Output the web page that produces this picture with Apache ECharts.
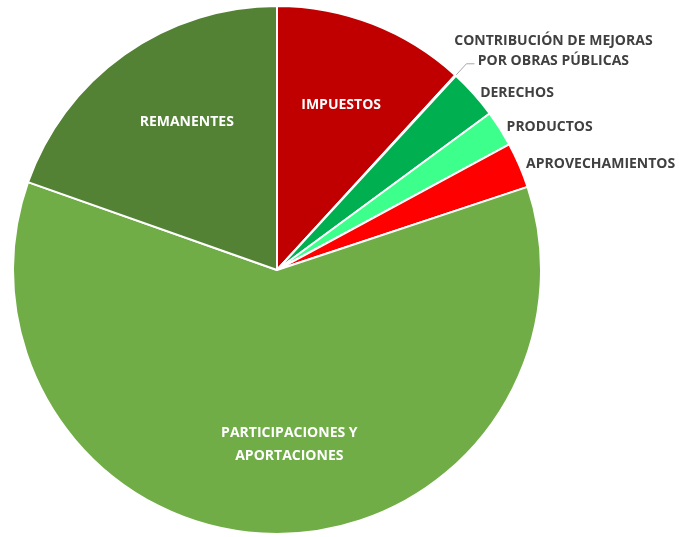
<!DOCTYPE html>
<html>
<head>
<meta charset="utf-8">
<script src="https://cdn.jsdelivr.net/npm/echarts@6/dist/echarts.min.js"></script>
<style>
  html, body { margin: 0; padding: 0; background: #fff; }
  #chart { width: 679px; height: 537px; }
</style>
</head>
<body>
<div id="chart"></div>
<script>
  // rubros de ingreso (en porcentaje del total)
  const categories = [
    'IMPUESTOS',
    'CONTRIBUCIÓN DE MEJORAS\nPOR OBRAS PÚBLICAS',
    'DERECHOS',
    'PRODUCTOS',
    'APROVECHAMIENTOS',
    'PARTICIPACIONES Y\nAPORTACIONES',
    'REMANENTES'
  ];
  const values = [11.8, 0.05, 3.05, 2.2, 2.8, 60.5, 19.6];
  const colors = ['#c00000', '#00b050', '#00b050', '#3cff8c', '#ff0000', '#70ad47', '#548235'];
  // las etiquetas que van dentro de la rebanada
  const insideLabels = ['IMPUESTOS', 'PARTICIPACIONES Y\nAPORTACIONES', 'REMANENTES'];

  const font = '"Open Sans", sans-serif';
  const fs = 14;
  const myChart = echarts.init(document.getElementById('chart'));

  function outsideLabel(i) {
    if (insideLabels.indexOf(categories[i]) >= 0) return {show: false};
    if (i !== 1) return {show: true};
    // la de contribución va en dos renglones centrados, arriba de la línea guía
    return {
      show: true,
      formatter: categories[i].split('\n').map(t => '{ln|' + t + '}').join('\n'),
      distanceToLabelLine: -21,
      padding: [0, 0, 26, 0],
      rich: {
        ln: {
          width: 200, align: 'center', color: '#404040',
          fontFamily: font, fontWeight: 'bold', fontSize: fs, lineHeight: 20
        }
      }
    };
  }

  const innerOffsets = {'REMANENTES': [12, -3], 'PARTICIPACIONES Y\nAPORTACIONES': [14, -2]};

  myChart.setOption({
    animation: false,
    series: [
      {
        type: 'pie',
        center: [277, 270],
        radius: 264,
        startAngle: 90,
        clockwise: true,
        avoidLabelOverlap: false,
        labelLayout: {hideOverlap: false},
        itemStyle: {borderColor: '#fff', borderWidth: 2},
        label: {
          position: 'outside',
          color: '#404040',
          fontFamily: font,
          fontWeight: 'bold',
          fontSize: fs,
          lineHeight: 20,
          overflow: 'none'
        },
        labelLine: {show: false, length: 2, length2: 0},
        emphasis: {disabled: true},
        data: categories.map((name, i) => ({
          name: name,
          value: values[i],
          itemStyle: {color: colors[i]},
          label: outsideLabel(i),
          labelLine: i === 1
            ? {show: true, length: 16, length2: 8, lineStyle: {color: '#a6a6a6', width: 1}}
            : {show: false}
        }))
      },
      {
        // capa transparente solo para ubicar las etiquetas interiores
        type: 'pie',
        center: [277, 270],
        radius: 348,
        startAngle: 90,
        clockwise: true,
        silent: true,
        z: 3,
        itemStyle: {color: 'transparent', borderWidth: 0},
        label: {
          position: 'inside',
          color: '#fff',
          fontFamily: font,
          fontWeight: 'bold',
          fontSize: fs,
          lineHeight: 23
        },
        labelLine: {show: false},
        data: categories.map((name, i) => ({
          name: name,
          value: values[i],
          label: {
            show: insideLabels.indexOf(name) >= 0,
            offset: innerOffsets[name] || [0, 0]
          }
        }))
      }
    ]
  });
</script>
</body>
</html>
